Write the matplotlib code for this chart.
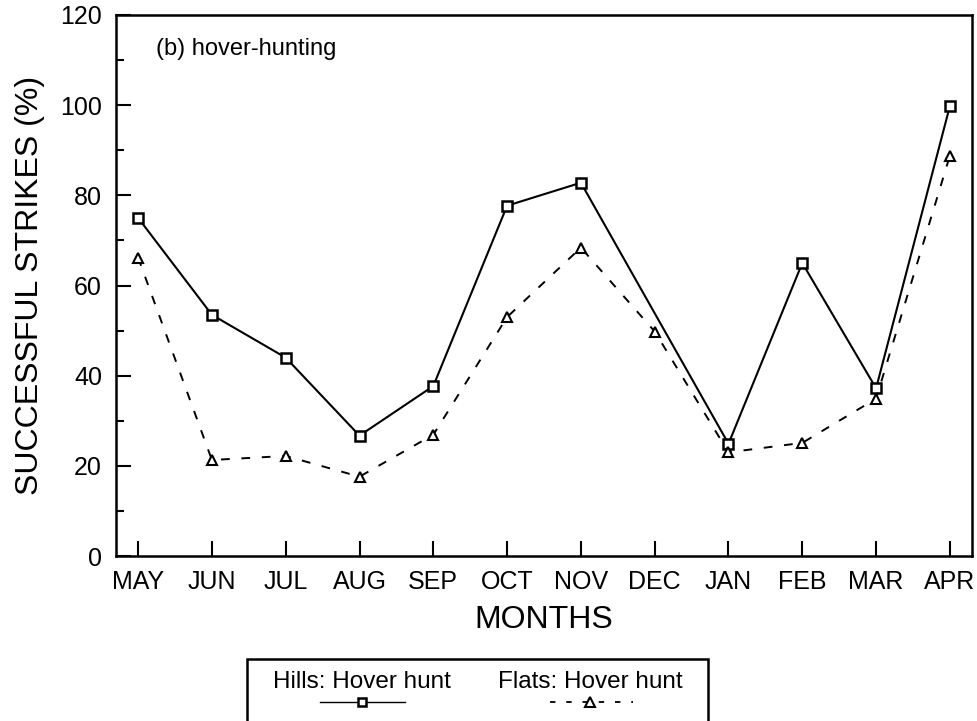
import numpy as np
import matplotlib
matplotlib.use("Agg")
import matplotlib.pyplot as plt
from matplotlib.lines import Line2D
from matplotlib.patches import Rectangle

months = ["MAY", "JUN", "JUL", "AUG", "SEP", "OCT", "NOV", "DEC", "JAN", "FEB", "MAR", "APR"]
# hills has no December value
hills = [75, 53.5, 44, 26.7, 37.7, 77.7, 82.8, None, 24.9, 65, 37.2, 99.8]
flats = [66.2, 21.3, 22.2, 17.6, 26.9, 53, 68.4, 49.8, 23, 25.1, 34.9, 88.8]

plt.rcParams['font.family'] = ['Liberation Sans', 'DejaVu Sans']

fig = plt.figure(figsize=(9.77, 7.21), dpi=100)
ax = fig.add_axes([0.1187, 0.2288, 0.8762, 0.7504])

x = np.arange(len(months))
hx = [i for i, v in enumerate(hills) if v is not None]
hy = [v for v in hills if v is not None]

ax.plot(hx, hy, color='black', lw=1.5, marker='s', ms=6.5, mfc='white',
        mec='black', mew=1.8, zorder=3)
ax.plot(x, flats, color='black', lw=1.4, dashes=[4.5, 6], marker='^', ms=7.5,
        mfc='white', mec='black', mew=1.5, zorder=3)

ax.set_xlim(-0.3, 11.3)
ax.set_ylim(0, 120)
ax.set_xticks(x)
ax.set_xticklabels(months)
ax.set_yticks(np.arange(0, 121, 20))
ax.set_yticks(np.arange(10, 120, 20), minor=True)
ax.tick_params(axis='both', which='major', direction='in', length=11, width=1.5,
               labelsize=18, pad=10)
ax.tick_params(axis='y', which='minor', direction='in', length=6, width=1.5)
ax.tick_params(axis='x', which='minor', bottom=False)
for s in ax.spines.values():
    s.set_linewidth(1.8)

ax.set_ylabel("SUCCESSFUL STRIKES (%)", fontsize=23, labelpad=11)
ax.set_xlabel("MONTHS", fontsize=23, labelpad=8)
ax.text(0.047, 0.958, "(b) hover-hunting", transform=ax.transAxes, fontsize=17,
        va='top', ha='left')

# legend box drawn by hand: labels above their line samples
fig.add_artist(Rectangle((0.2528, -0.05), 0.4719, 0.136, transform=fig.transFigure,
                         fill=False, ec='black', lw=1.8))
fig.text(0.3706, 0.054, "Hills: Hover hunt", ha='center', va='center', fontsize=17.5)
fig.text(0.604, 0.054, "Flats: Hover hunt", ha='center', va='center', fontsize=17.5)
fig.add_artist(Line2D([0.3275, 0.4145], [0.026, 0.026], transform=fig.transFigure,
                      color='black', lw=1.0))
fig.add_artist(Line2D([0.3706], [0.026], transform=fig.transFigure, marker='s', ms=6,
                      mfc='white', mec='black', mew=1.8, ls='none'))
fig.add_artist(Line2D([0.563, 0.648], [0.026, 0.026], transform=fig.transFigure,
                      color='black', lw=1.3, dashes=[3, 6]))
fig.add_artist(Line2D([0.604], [0.026], transform=fig.transFigure, marker='^', ms=7,
                      mfc='white', mec='black', mew=1.5, ls='none'))

fig.savefig("out.png", dpi=100)
